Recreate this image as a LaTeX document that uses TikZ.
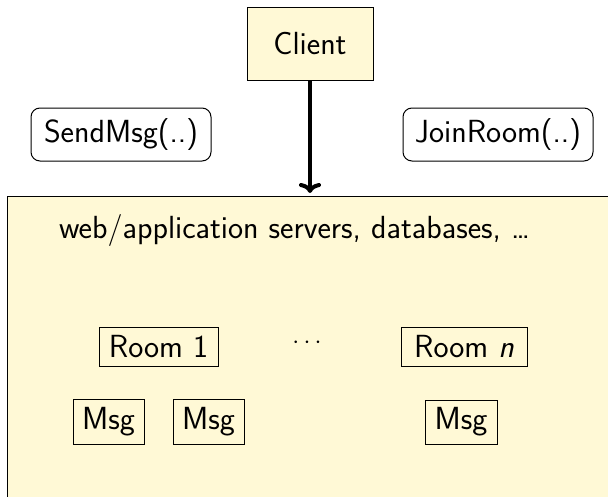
\documentclass[tikz,border=0pt]{standalone}
\usepackage{fontspec}
\usetikzlibrary{arrows.meta}
\definecolor{paper}{RGB}{255,249,214}
\tikzset{
  box/.style={draw, line width=1pt, inner sep=0pt},
  callbox/.style={draw, line width=1pt, rounded corners=9pt, inner sep=0pt},
}
\begin{document}
\begin{tikzpicture}[x=1pt, y=-1pt, font=\sffamily\fontsize{32}{38}\selectfont]
  \useasboundingbox (0,0) rectangle (608,496);
  \begin{scope}
    \clip (0,0) rectangle (608,496);
    % server side, running off the right and bottom edges
    \node[box, fill=paper, anchor=north west, minimum width=640pt, minimum height=340pt] (servers) at (7,196) {};
  \end{scope}

  \node[box, fill=paper, minimum width=126pt, minimum height=73pt] (client) at (310,43.5) {Client};

  \node[callbox, minimum width=180pt, minimum height=53pt] (send) at (121,134.5) {SendMsg(..)};
  \node[callbox, minimum width=190pt, minimum height=53pt] (join) at (498,134.5) {JoinRoom(..)};

  \node (infra) at (294.5,230) {web/application servers, databases, \dots};

  \node[box, minimum width=119pt, minimum height=39pt] (room1) at (158.5,346.5) {Room 1};
  \node (dots) at (307,343) {$\cdots$};
  \node[box, minimum width=126pt, minimum height=39pt] (roomn) at (464,346.5) {Room \textsl{n}};

  \node[box, minimum width=71pt, minimum height=45pt] (msg1) at (108.5,421.5) {Msg};
  \node[box, minimum width=71pt, minimum height=45pt] (msg2) at (208.5,421.5) {Msg};
  \node[box, minimum width=72pt, minimum height=44pt] (msg3) at (461,422) {Msg};

  \draw[line width=4pt, -{To[length=10pt,width=22pt]}, shorten >=3pt] (client.south) -- (client.south |- servers.north);
\end{tikzpicture}
\end{document}
